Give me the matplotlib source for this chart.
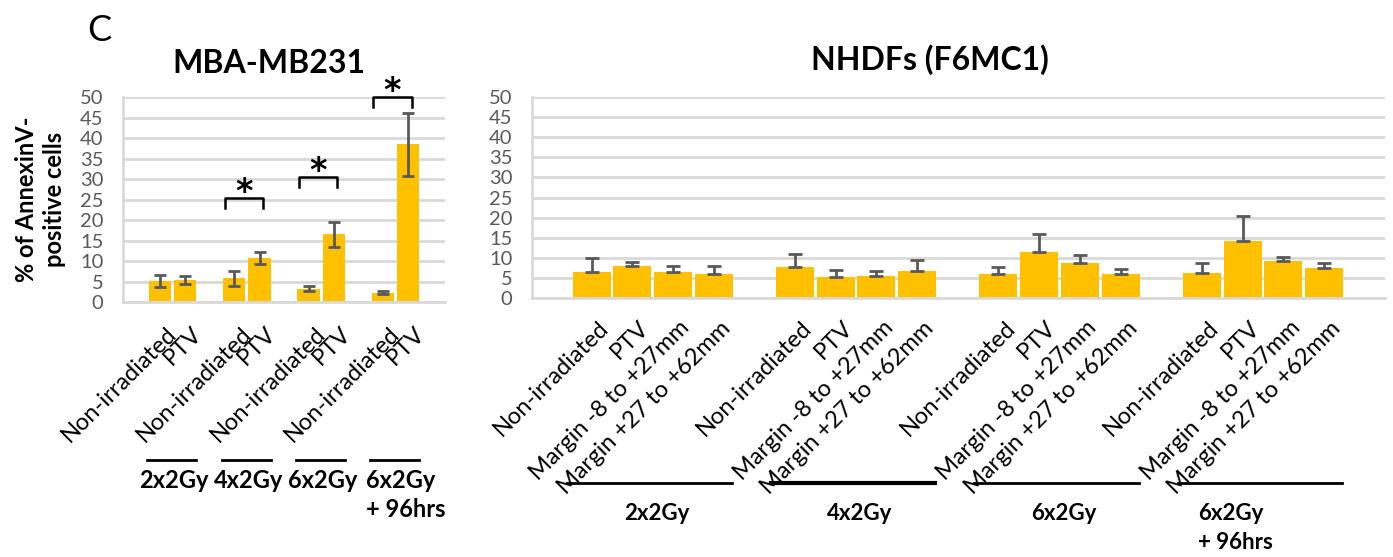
import matplotlib
matplotlib.use("Agg")
import matplotlib.pyplot as plt
import matplotlib.transforms as mtrans
import numpy as np

plt.rcParams["font.family"] = ["Lato", "DejaVu Sans"]

# ---- data: MBA-MB231 ----
left_groups = ["2x2Gy", "4x2Gy", "6x2Gy", "6x2Gy\n+ 96hrs"]
left_cats = ["Non-irradiated", "PTV"]
left_vals = [[5.1, 5.4], [5.8, 10.8], [3.2, 16.5], [2.3, 38.5]]
left_err = [[1.5, 1.0], [1.8, 1.5], [0.6, 3.0], [0.3, 7.7]]
left_sig = [1, 2, 3]            # groups with a * bracket
left_sig_y = [25.4, 30.5, 50.0]  # bracket heights

# ---- data: NHDFs (F6MC1) ----
right_groups = ["2x2Gy", "4x2Gy", "6x2Gy", "6x2Gy\n+ 96hrs"]
right_cats = ["Non-irradiated", "PTV", "Margin -8 to +27mm", "Margin +27 to +62mm"]
right_vals = [[6.5, 8.0, 6.5, 5.8], [7.6, 5.2, 5.3, 6.7],
              [5.8, 11.5, 8.7, 5.8], [6.2, 14.2, 9.1, 7.3]]
right_err = [[3.3, 0.8, 1.5, 2.0], [3.2, 1.7, 1.4, 2.7],
             [1.9, 4.5, 2.0, 1.4], [2.5, 6.3, 1.1, 1.4]]

bar_c = "#FFC000"
err_c = "#595959"
grid_c = "#D9D9D9"
tick_c = "#595959"

fig = plt.figure(figsize=(13.93, 5.57), dpi=100)
axL = fig.add_axes([0.0883, 0.4578, 0.2312, 0.368])
axR = fig.add_axes([0.3817, 0.4655, 0.6126, 0.3598])


def style(ax, xsize, xpad):
    ax.set_ylim(0, 50)
    ax.set_yticks(np.arange(0, 51, 5))
    ax.yaxis.grid(True, color=grid_c, lw=2)
    ax.set_axisbelow(True)
    for s in ["top", "right"]:
        ax.spines[s].set_visible(False)
    for s in ["left", "bottom"]:
        ax.spines[s].set_color(grid_c)
        ax.spines[s].set_linewidth(2)
    ax.tick_params(axis="y", length=0, pad=14, labelsize=14.5, labelcolor=tick_c)
    ax.tick_params(axis="x", length=0, pad=xpad, labelsize=xsize, labelcolor="black")


# left chart
style(axL, 17, 15)
nL = len(left_cats)
wL, stepL = 0.30, 0.34
gx = np.arange(len(left_groups))
ticks, labels = [], []
for j in range(nL):
    xs = gx + (j - (nL - 1) / 2) * stepL
    v = [g[j] for g in left_vals]
    e = [g[j] for g in left_err]
    axL.bar(xs, v, width=wL, color=bar_c, zorder=2)
    axL.errorbar(xs, v, yerr=e, fmt="none", ecolor=err_c, elinewidth=2,
                 capsize=4, capthick=2, zorder=3)
    ticks += list(xs)
    labels += [left_cats[j]] * len(gx)
order = np.argsort(ticks)
axL.set_xticks(np.array(ticks)[order])
axL.set_xticklabels(np.array(labels)[order], rotation=45, ha="right",
                    va="top", rotation_mode="anchor")
axL.set_xlim(-0.67, 3.67)

# significance brackets
for g, yb in zip(left_sig, left_sig_y):
    x0 = g - stepL / 2 - 0.13
    x1 = g + stepL / 2 + 0.05
    axL.plot([x0, x0, x1, x1], [yb - 2.4, yb, yb, yb - 2.4], color="black",
             lw=1.8, clip_on=False, zorder=4)
    axL.text((x0 + x1) / 2, yb - 0.9, "*", ha="center", va="baseline",
             fontsize=24, fontweight="bold", family="DejaVu Sans",
             clip_on=False)

axL.set_title("MBA-MB231", fontsize=23, fontweight="bold", pad=17, x=0.453)
axL.set_ylabel("% of AnnexinV-\npositive cells", fontsize=17,
               fontweight="bold", linespacing=1.25, labelpad=10)

# right chart
style(axR, 17, 14)
nR = len(right_cats)
wR, stepR = 0.187, 0.2
ticks, labels = [], []
for j in range(nR):
    xs = gx + (j - (nR - 1) / 2) * stepR
    v = [g[j] for g in right_vals]
    e = [g[j] for g in right_err]
    axR.bar(xs, v, width=wR, color=bar_c, zorder=2)
    axR.errorbar(xs, v, yerr=[np.zeros(len(e)), e], fmt="none", ecolor=err_c,
                 elinewidth=2, capsize=5, capthick=2, zorder=3)
    ticks += list(xs)
    labels += [right_cats[j]] * len(gx)
order = np.argsort(ticks)
axR.set_xticks(np.array(ticks)[order])
axR.set_xticklabels(np.array(labels)[order], rotation=45, ha="right",
                    va="top", rotation_mode="anchor")
axR.set_xlim(-0.594, 3.6)
axR.set_title("NHDFs (F6MC1)", fontsize=23, fontweight="bold", pad=20, x=0.467)

# shift rotated tick labels a bit right
for ax in (axL, axR):
    off = mtrans.ScaledTranslation(6 / 100, 0, fig.dpi_scale_trans)
    for lab in ax.get_xticklabels():
        lab.set_transform(lab.get_transform() + off)

# group lines and labels beneath
trL = mtrans.blended_transform_factory(axL.transData, fig.transFigure)
for i, g in enumerate(left_groups):
    axL.plot([i - 0.34, i + 0.32], [0.174, 0.174], color="black", lw=2,
             transform=trL, clip_on=False)
    if "\n" in g:
        axL.text(i - 0.40, 0.158, g, transform=trL, ha="left", va="top",
                 fontsize=17, fontweight="bold", linespacing=1.3)
    else:
        axL.text(i + 0.02, 0.158, g, transform=trL, ha="center", va="top",
                 fontsize=17, fontweight="bold")

trR = mtrans.blended_transform_factory(axR.transData, fig.transFigure)
for i, g in enumerate(right_groups):
    axR.plot([i - 0.42, i + 0.39], [0.1329, 0.1329], color="black",
             lw=3 if i == 1 else 2, transform=trR, clip_on=False)
    if "\n" in g:
        axR.text(i - 0.32, 0.097, g, transform=trR, ha="left", va="top",
                 fontsize=16, fontweight="bold", linespacing=1.45)
    else:
        axR.text(i + 0.02, 0.097, g, transform=trR, ha="center", va="top",
                 fontsize=16, fontweight="bold")

fig.text(0.0625, 0.945, "C", fontsize=26, ha="left", va="center")

fig.savefig("out.png", dpi=100)
